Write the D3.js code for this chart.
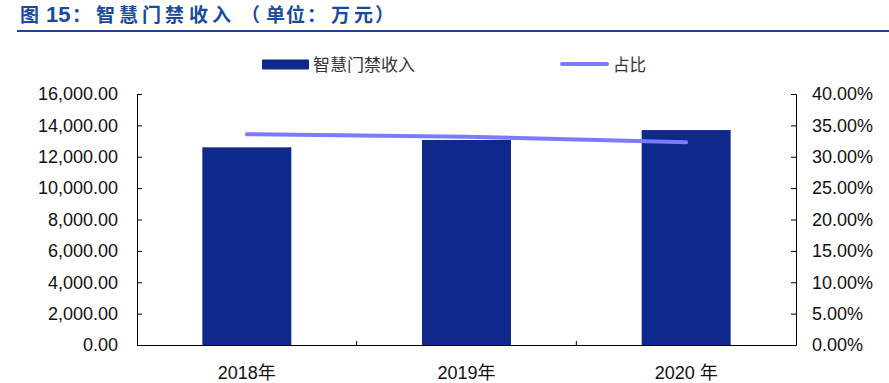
<!DOCTYPE html>
<html>
<head>
<meta charset="utf-8">
<script src="https://cdn.jsdelivr.net/npm/d3@7"></script>
<style>
  html, body { margin: 0; padding: 0; background: #fff; }
  svg { display: block; }
</style>
</head>
<body>
<svg id="chart" width="889" height="383"></svg>
<script>
const categories = ["2018年", "2019年", "2020 年"];
const revenue = [12600, 13070, 13700];
const share = [0.336, 0.332, 0.323];
const leftTicks = [0, 2000, 4000, 6000, 8000, 10000, 12000, 14000, 16000];
const rightTicks = [0, 0.05, 0.10, 0.15, 0.20, 0.25, 0.30, 0.35, 0.40];
const seriesNames = ["智慧门禁收入", "占比"];
const titleParts = ["图", "15", "：", "智", "慧", "门", "禁", "收", "入", "（", "单", "位", "：", "万", "元", "）"];
// layout of the title glyphs (x positions of each glyph)
const titleX = [20, 46, 72, 96, 119, 142, 165, 189, 212, 241, 266, 286, 307, 331, 354, 375];

const svg = d3.select("#chart");
const font = '"Liberation Sans", Arial, "Noto Sans CJK SC", sans-serif';
const cjk = '"Noto Sans CJK SC", sans-serif';
const barColor = "#0f288c";
const lineColor = "#7b7bff";
const titleColor = "#1b4a9a";

const L = 137, R = 796, T = 94, B = 345;

// title
const title = svg.append("text").attr("y", 22).attr("fill", titleColor).attr("font-weight", "bold");
title.selectAll("tspan").data(titleParts).join("tspan")
  .attr("x", (d, i) => titleX[i])
  .attr("font-family", d => /^\d+$/.test(d) ? '"Liberation Sans", Arial, sans-serif' : cjk)
  .attr("font-size", d => /^\d+$/.test(d) ? 22 : 19)
  .text(d => d);
svg.append("rect").attr("x", 17).attr("y", 30).attr("width", 872).attr("height", 2).attr("fill", "#1f4596");

const x = d3.scaleBand().domain(categories).range([L, R]).padding(0);
const y = d3.scaleLinear().domain([0, 16000]).range([B, T]);
const y2 = d3.scaleLinear().domain([0, 0.4]).range([B, T]);

// bars
const bw = x.bandwidth() * 0.405;
svg.append("g").selectAll("rect").data(categories).join("rect")
  .attr("x", (d) => x(d) + x.bandwidth() / 2 - bw / 2)
  .attr("y", (d, i) => y(revenue[i]))
  .attr("width", bw)
  .attr("height", (d, i) => B - y(revenue[i]))
  .attr("fill", barColor);

// left axis
const gl = svg.append("g").attr("transform", `translate(${L},0)`)
  .call(d3.axisLeft(y).tickValues(leftTicks).tickSizeInner(-5).tickSizeOuter(-5).tickPadding(19)
    .tickFormat(d3.format(",.2f")));
// right axis
const gr = svg.append("g").attr("transform", `translate(${R},0)`)
  .call(d3.axisRight(y2).tickValues(rightTicks).tickSizeInner(-5).tickSizeOuter(-5).tickPadding(16)
    .tickFormat(d3.format(".2%")));
[gl, gr].forEach(g => {
  g.selectAll("path, line").attr("stroke", "#000").attr("stroke-width", 1);
  g.selectAll("text").attr("font-family", font).attr("font-size", 18).attr("fill", "#111");
});

// bottom axis
const gb = svg.append("g").attr("transform", `translate(0,${B})`)
  .call(d3.axisBottom(x).tickSize(0).tickPadding(21));
gb.select(".domain").attr("stroke", "#000").attr("stroke-width", 1);
gb.selectAll("text").attr("font-family", font).attr("font-size", 18).attr("fill", "#111");
// boundary ticks
svg.append("g").selectAll("line").data(categories.slice(1)).join("line")
  .attr("x1", d => x(d)).attr("x2", d => x(d))
  .attr("y1", B).attr("y2", B - 4)
  .attr("stroke", "#000");

// line
const line = d3.line()
  .x((d, i) => x(categories[i]) + x.bandwidth() / 2)
  .y(d => y2(d));
svg.append("path").datum(share)
  .attr("d", line)
  .attr("fill", "none")
  .attr("stroke", lineColor)
  .attr("stroke-width", 4)
  .attr("stroke-linecap", "round")
  .attr("stroke-linejoin", "round");

// legend
const lg = svg.append("g");
lg.append("rect").attr("x", 262).attr("y", 59.5).attr("width", 47).attr("height", 10).attr("rx", 1).attr("fill", barColor);
lg.append("text").attr("x", 313).attr("y", 71).attr("font-family", cjk)
  .attr("font-size", 17).attr("fill", "#333").text(seriesNames[0]);
lg.append("line").attr("x1", 562).attr("x2", 607).attr("y1", 64).attr("y2", 64)
  .attr("stroke", lineColor).attr("stroke-width", 4).attr("stroke-linecap", "round");
lg.append("text").attr("x", 613).attr("y", 71).attr("font-family", cjk)
  .attr("font-size", 16.5).attr("fill", "#333").text(seriesNames[1]);
</script>
</body>
</html>
